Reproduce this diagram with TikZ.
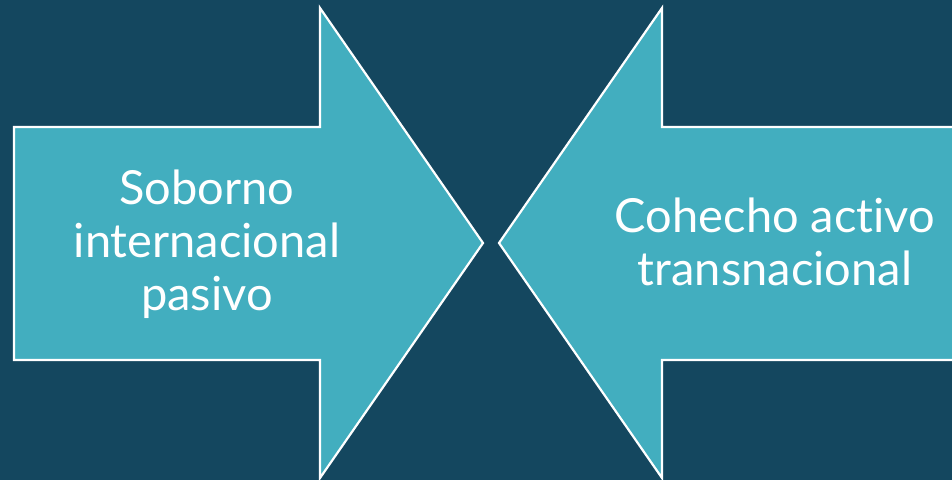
\documentclass[tikz,border=0pt]{standalone}
\usepackage{fontspec}
\setmainfont{Lato}[Ligatures={NoCommon}]
\definecolor{bgc}{HTML}{14475F}
\definecolor{arc}{HTML}{42AEBF}
\begin{document}
\begin{tikzpicture}[x=1pt,y=1pt,
  arrowshape/.style={fill=arc,draw=white,line width=2.2pt,line join=miter},
  lbl/.style={text=white,align=center,font=\fontsize{47}{53}\selectfont}]
\useasboundingbox (0,0) rectangle (952,480);
\fill[bgc] (0,0) rectangle (952,480);
\clip (0,0) rectangle (952,480);
\draw[arrowshape] (14,353) -- (320,353) -- (320,472) -- (483,237) -- (320,2) -- (320,120) -- (14,120) -- cycle;
\draw[arrowshape] (970,353) -- (662,353) -- (662,472) -- (499,237) -- (662,2) -- (662,120) -- (970,120) -- cycle;
\node[lbl] (left) at (207,236) {Soborno\\internacional\\pasivo};
\node[lbl] (right) at (775,238) {Cohecho activo\\transnacional};
\end{tikzpicture}
\end{document}
